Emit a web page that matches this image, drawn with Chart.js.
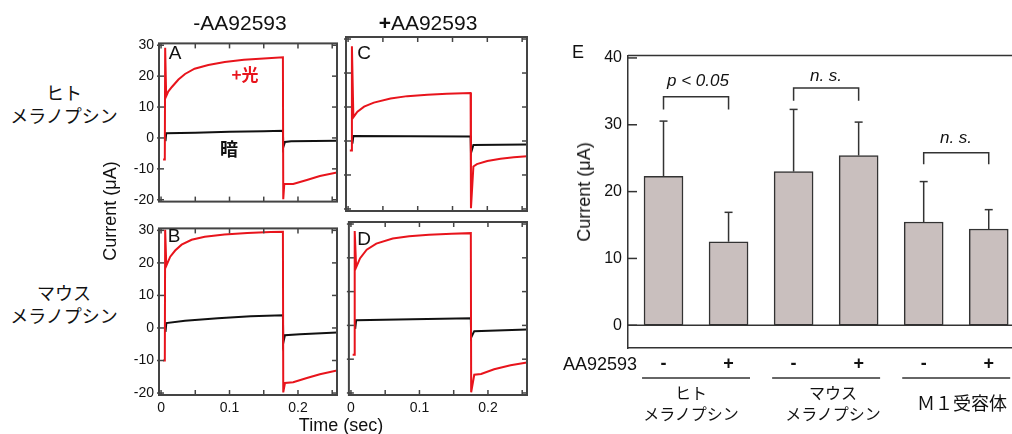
<!DOCTYPE html>
<html>
<head>
<meta charset="utf-8">
<script src="https://cdn.jsdelivr.net/npm/chart.js@4.4.0/dist/chart.umd.min.js"></script>
<style>
html, body { margin: 0; padding: 0; background: #fff; overflow: hidden; width: 1012px; height: 434px; }
#wrap { position: relative; width: 1012px; height: 434px; font-family: "Liberation Sans", Arial, sans-serif; color: #111; }
canvas { position: absolute; }
.t { position: absolute; transform: translate(-50%, -50%); white-space: nowrap; line-height: 1; }
.jp { font-family: "Noto Sans CJK JP", sans-serif; text-align: center; }
.rot { transform: translate(-50%, -50%) rotate(-90deg); }
</style>
</head>
<body>
<div id="wrap">
  <canvas id="cA" width="222" height="185" style="left:119px;top:30px"></canvas>
  <canvas id="cC" width="189" height="185" style="left:342px;top:30px"></canvas>
  <canvas id="cB" width="222" height="205" style="left:119px;top:215px"></canvas>
  <canvas id="cD" width="189" height="205" style="left:342px;top:215px"></canvas>
  <canvas id="cE" width="438" height="345" style="left:580px;top:40px"></canvas>

  <div class="t" style="left:240px;top:22px;font-size:21px">-AA92593</div>
  <div class="t" style="left:428px;top:22px;font-size:21px"><b>+</b>AA92593</div>
  <div class="t jp" style="left:64px;top:104px;font-size:18px;line-height:23px">ヒト<br>メラノプシン</div>
  <div class="t jp" style="left:64px;top:304px;font-size:18px;line-height:23px">マウス<br>メラノプシン</div>
  <div class="t rot" style="left:110px;top:211px;font-size:18px">Current (μA)</div>
  <div class="t" style="left:341px;top:425px;font-size:18px">Time (sec)</div>
  <div class="t" style="left:175px;top:52px;font-size:19px">A</div>
  <div class="t" style="left:364px;top:52px;font-size:19px">C</div>
  <div class="t" style="left:174px;top:235px;font-size:19px">B</div>
  <div class="t" style="left:364px;top:238px;font-size:19px">D</div>
  <div class="t jp" style="left:245px;top:73px;font-size:17px;font-weight:bold;color:#e8141c">+光</div>
  <div class="t jp" style="left:229px;top:148px;font-size:18px;font-weight:bold">暗</div>

  <div class="t" style="left:578px;top:52px;font-size:18px">E</div>
  <div class="t rot" style="left:584px;top:192px;font-size:18px">Current (μA)</div>
  <div class="t" style="left:698px;top:80px;font-size:17px;font-style:italic">p &lt; 0.05</div>
  <div class="t" style="left:826px;top:75px;font-size:17px;font-style:italic">n. s.</div>
  <div class="t" style="left:956px;top:137px;font-size:17px;font-style:italic">n. s.</div>
  <div class="t" style="left:600px;top:364px;font-size:18px">AA92593</div>
  <div class="t jp" style="left:691px;top:403px;font-size:16px;line-height:21px">ヒト<br>メラノプシン</div>
  <div class="t jp" style="left:833px;top:403px;font-size:16px;line-height:21px">マウス<br>メラノプシン</div>
  <div class="t jp" style="left:962px;top:402px;font-size:18px">Ｍ１受容体</div>
</div>

<script>
// traces (time in sec, current in uA)
const tA_light = [0.003, 0.0055, 0.006, 0.0075, 0.0105, 0.0158, 0.0254, 0.035, 0.049, 0.069, 0.093, 0.121, 0.150, 0.178, 0.1785, 0.180, 0.193, 0.213, 0.232, 0.257];
const iA_light = [-7, -7, 29.2, 13.5, 15.0, 16.5, 18.9, 20.7, 22.4, 23.6, 24.6, 25.3, 25.7, 26.1, -19.8, -14.9, -14.9, -13.6, -12.3, -11.2];
const tA_dark = [0.0065, 0.0075, 0.05, 0.1, 0.15, 0.178, 0.1785, 0.181, 0.19, 0.257];
const iA_dark = [-1.0, 1.5, 1.7, 2.0, 2.2, 2.35, -3.0, -1.3, -1.1, -0.9];

const tB_light = [0.003, 0.0055, 0.006, 0.0077, 0.0134, 0.0206, 0.030, 0.0446, 0.0638, 0.0926, 0.126, 0.160, 0.178, 0.1785, 0.181, 0.193, 0.213, 0.232, 0.257];
const iB_light = [-10, -10, 30.2, 19.1, 21.9, 23.8, 25.6, 27.1, 28.0, 28.7, 29.2, 29.5, 29.6, -19.8, -16.9, -16.7, -15.4, -14.2, -13.1];
const tB_dark = [0.0065, 0.0077, 0.035, 0.083, 0.131, 0.178, 0.1785, 0.181, 0.203, 0.257];
const iB_dark = [-1.2, 1.5, 2.2, 3.0, 3.6, 3.9, -4.6, -2.2, -1.9, -1.4];

const tC_light = [0.0025, 0.005, 0.0055, 0.0076, 0.0134, 0.023, 0.037, 0.061, 0.085, 0.114, 0.142, 0.176, 0.1765, 0.18, 0.185, 0.200, 0.219, 0.238, 0.257];
const iC_light = [-2.8, -2.8, 27.9, 7.0, 8.6, 10.1, 11.3, 12.5, 13.2, 13.6, 13.9, 14.1, -19.8, -7.5, -6.8, -5.9, -5.2, -4.8, -4.5];
const tC_dark = [0.0062, 0.0076, 0.09, 0.176, 0.1765, 0.18, 0.257];
const iC_dark = [-0.8, 1.5, 1.4, 1.3, -3.6, -1.2, -1.0];

const tD_light = [0.0025, 0.005, 0.0055, 0.0076, 0.0134, 0.023, 0.037, 0.061, 0.085, 0.114, 0.147, 0.175, 0.1755, 0.18, 0.190, 0.209, 0.233, 0.257];
const iD_light = [-8.7, -8.7, 27.9, 17.2, 19.9, 22.4, 24.2, 25.7, 26.4, 26.8, 27.1, 27.3, -19.8, -14.6, -14.4, -13.0, -11.8, -11.0];
const tD_dark = [0.0062, 0.0076, 0.09, 0.175, 0.1755, 0.18, 0.257];
const iD_dark = [-1.0, 1.5, 1.8, 2.1, -3.6, -1.7, -1.2];

const timeLabelled = [0, 0.1, 0.2];

// panel E
const drugSigns = ['-', '+', '-', '+', '-', '+'];
const barMeans = [22.3, 12.5, 23.0, 25.4, 15.45, 14.4];
const barErr = [8.25, 4.4, 9.3, 5.0, 6.05, 2.9];
const bracketPairs = [[0, 1], [2, 3], [4, 5]];
const bracketTop = [34.2, 35.5, 25.8];
const bracketFoot = [32.3, 33.6, 24.1];

const RED = '#e8141c';
const INK = '#111';
const FONT = '"Liberation Sans", Arial, sans-serif';

function seg(ctx, x0, y0, x1, y1) {
    ctx.beginPath();
    ctx.moveTo(x0, y0);
    ctx.lineTo(x1, y1);
    ctx.stroke();
}

// boxed frame with inward ticks on all four sides
const frameTicks = {
    id: 'frameTicks',
    afterDatasetsDraw(chart) {
        const { ctx, chartArea: a, scales: { x, y } } = chart;
        ctx.save();
        ctx.strokeStyle = '#444';
        ctx.lineWidth = 1.5;
        x.ticks.forEach(t => {
            const px = x.getPixelForValue(t.value);
            seg(ctx, px, a.bottom, px, a.bottom - 5);
            seg(ctx, px, a.top, px, a.top + 5);
        });
        y.ticks.forEach(t => {
            const py = y.getPixelForValue(t.value);
            seg(ctx, a.left - 2, py, a.left + 5, py);
            seg(ctx, a.right, py, a.right - 5, py);
        });
        ctx.lineWidth = 2;
        ctx.strokeRect(a.left, a.top, a.right - a.left, a.bottom - a.top);
        ctx.restore();
    }
};

function points(ts, is) {
    return ts.map((t, k) => ({ x: t, y: is[k] }));
}

function tracePanel(id, light, dark, showY, showX) {
    // label room is kept by the scales themselves, padding only trims the rest
    const yRoom = showY ? 36 : 0;
    const xRoom = showX ? 22 : 0;
    const pad = { left: 4, top: 7, right: 4, bottom: showX ? 3 : 4 };
    return new Chart(document.getElementById(id), {
        type: 'line',
        data: {
            datasets: [
                { data: points(light[0], light[1]), borderColor: RED, borderWidth: 2, pointRadius: 0, tension: 0 },
                { data: points(dark[0], dark[1]), borderColor: INK, borderWidth: 2, pointRadius: 0, tension: 0 }
            ]
        },
        options: {
            responsive: false,
            animation: false,
            events: [],
            layout: { padding: pad },
            plugins: { legend: { display: false }, tooltip: { enabled: false } },
            scales: {
                x: {
                    type: 'linear', min: -0.003, max: 0.257,
                    grid: { display: false, drawTicks: false },
                    border: { display: false },
                    ticks: {
                        display: showX, stepSize: 0.05, autoSkip: false, includeBounds: false,
                        maxRotation: 0, padding: 5, color: INK,
                        font: { family: FONT, size: 14 },
                        callback: v => {
                            const hit = timeLabelled.find(l => Math.abs(l - v) < 1e-6);
                            return hit === undefined ? '' : String(hit);
                        }
                    },
                    afterFit: s => { s.height = xRoom; }
                },
                y: {
                    min: -20.6, max: 30.6,
                    grid: { display: false, drawTicks: false },
                    border: { display: false },
                    ticks: {
                        display: showY, stepSize: 10, includeBounds: false, padding: 5, color: INK,
                        font: { family: FONT, size: 14 }
                    },
                    afterFit: s => { s.width = yRoom; }
                }
            }
        },
        plugins: [frameTicks]
    });
}

tracePanel('cA', [tA_light, iA_light], [tA_dark, iA_dark], true, false);
tracePanel('cC', [tC_light, iC_light], [tC_dark, iC_dark], false, false);
tracePanel('cB', [tB_light, iB_light], [tB_dark, iB_dark], true, true);
tracePanel('cD', [tD_light, iD_light], [tD_dark, iD_dark], false, true);

// inward y ticks, error bars, brackets, zero line, group underlines
const barExtras = {
    id: 'barExtras',
    afterDatasetsDraw(chart) {
        const { ctx, chartArea: a, scales: { x, y } } = chart;
        ctx.save();
        ctx.strokeStyle = '#333';
        ctx.lineWidth = 1.5;
        const y0 = y.getPixelForValue(0);
        seg(ctx, a.left, y0, a.right, y0);
        seg(ctx, a.left, a.top, a.right, a.top);
        y.ticks.forEach(t => {
            const py = y.getPixelForValue(t.value);
            seg(ctx, a.left, py, a.left + 9, py);
        });
        barMeans.forEach((m, k) => {
            const px = x.getPixelForValue(k);
            const yb = y.getPixelForValue(m);
            const ye = y.getPixelForValue(m + barErr[k]);
            seg(ctx, px, yb, px, ye);
            seg(ctx, px - 4, ye, px + 4, ye);
        });
        bracketPairs.forEach(([p, q], k) => {
            const x0 = x.getPixelForValue(p), x1 = x.getPixelForValue(q);
            const top = y.getPixelForValue(bracketTop[k]);
            const foot = y.getPixelForValue(bracketFoot[k]);
            ctx.beginPath();
            ctx.moveTo(x0, foot);
            ctx.lineTo(x0, top);
            ctx.lineTo(x1, top);
            ctx.lineTo(x1, foot);
            ctx.stroke();
        });
        bracketPairs.forEach(([p, q]) => {
            seg(ctx, x.getPixelForValue(p - 0.33), a.bottom + 30, x.getPixelForValue(q + 0.33), a.bottom + 30);
        });
        ctx.restore();
    }
};

new Chart(document.getElementById('cE'), {
    type: 'bar',
    data: {
        datasets: [{
            data: barMeans.map((v, k) => ({ x: k, y: v })),
            backgroundColor: '#c9bfbe',
            borderColor: '#333',
            borderWidth: 1.5,
            borderSkipped: false,
            barThickness: 39
        }]
    },
    options: {
        responsive: false,
        animation: false,
        events: [],
        layout: { padding: { left: 4, top: 12, right: 0, bottom: 9 } },
        plugins: { legend: { display: false }, tooltip: { enabled: false } },
        scales: {
            x: {
                // max kept off a whole step from min so ticks land on the bar indices
                type: 'linear', offset: false, min: -0.546, max: 5.45,
                grid: { display: false, drawTicks: false, offset: false },
                border: { display: true, color: '#333', width: 1.5 },
                ticks: {
                    stepSize: 1, includeBounds: false, autoSkip: false, maxRotation: 0, padding: 5, color: INK,
                    font: { family: FONT, size: 18, weight: 'bold' },
                    callback: v => drugSigns[Math.round(v)] || ''
                },
                afterFit: s => { s.height = 28; }
            },
            y: {
                min: -3.4, max: 40.35,
                grid: { display: false, drawTicks: false },
                border: { display: true, color: '#333', width: 1.5 },
                ticks: {
                    stepSize: 10, includeBounds: false, padding: 6, color: INK,
                    font: { family: FONT, size: 16 }
                },
                afterFit: s => { s.width = 44; }
            }
        }
    },
    plugins: [barExtras]
});
</script>
</body>
</html>
